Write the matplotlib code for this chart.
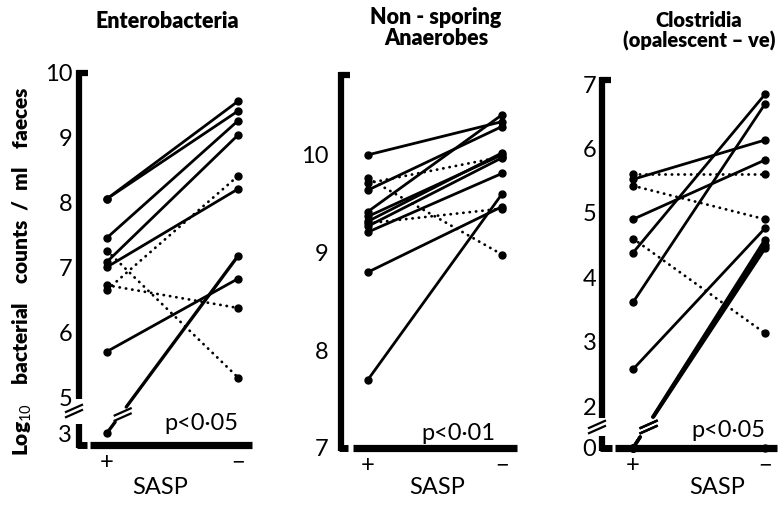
import matplotlib
matplotlib.use("Agg")
import numpy as np
import matplotlib.pyplot as plt
from matplotlib.lines import Line2D

plt.rcParams["font.family"] = ["Lato", "DejaVu Sans"]
plt.rcParams["mathtext.fontset"] = "custom"
plt.rcParams["mathtext.rm"] = "Lato"
plt.rcParams["mathtext.bf"] = "Lato:bold"

# log10 counts per patient, with (+) and without (-) SASP; dot = dotted line
entero_on = [8.05, 8.05, 7.45, 7.08, 7.00, 6.65, 6.72, 7.25, 5.70, 3.00]
entero_off = [9.55, 9.40, 9.25, 9.03, 8.20, 8.40, 6.37, 5.30, 6.82, 7.17]
entero_dot = [0, 0, 0, 0, 0, 1, 1, 1, 0, 0]
entero_ticks = [3, 5, 6, 7, 8, 9, 10]

anaer_on = [10.00, 9.76, 9.71, 9.64, 9.42, 9.37, 9.32, 9.30, 9.27, 9.21, 8.80, 7.70]
anaer_off = [10.34, 8.98, 9.98, 10.29, 10.41, 10.00, 10.02, 9.45, 9.97, 9.81, 9.47, 9.60]
anaer_dot = [0, 1, 1, 0, 0, 0, 0, 1, 0, 0, 0, 0]
anaer_ticks = [7, 8, 9, 10]

clos_on = [5.60, 5.52, 5.42, 4.90, 4.38, 3.61, 4.60, 2.57, 0, 0, 0, 0]
clos_off = [5.60, 6.13, 4.90, 5.82, 6.84, 6.69, 3.13, 4.76, 4.58, 4.50, 4.45, 0]
clos_dot = [1, 0, 1, 0, 0, 0, 1, 0, 0, 0, 0, 0]
clos_ticks = [0, 2, 3, 4, 5, 6, 7]

titles = ["Enterobacteria", "Non - sporing\nAnaerobes", "Clostridia\n(opalescent \u2013 ve)"]
pvals = ["p<0\u00b705", "p<0\u00b701", "p<0\u00b705"]
xcats = ["+", "\u2212"]

W, H = 779, 507
fig = plt.figure(figsize=(W / 100, H / 100), dpi=100)


def figline(xs, ys, lw, **kw):
    # decoration in image pixels (y measured from the top)
    fig.add_artist(Line2D([x / W for x in xs], [1 - y / H for y in ys],
                          transform=fig.transFigure, color="black", lw=lw,
                          solid_capstyle="butt", **kw))


def break_scale(brk, k):
    def fwd(v):
        v = np.asarray(v, dtype=float)
        return np.where(v >= brk, v, brk - (brk - v) * k)

    def inv(p):
        p = np.asarray(p, dtype=float)
        return np.where(p >= brk, p, brk - (brk - p) / k)
    return fwd, inv


def slash(cx, cy):
    # two short "//" strokes centred on an image-pixel point
    for d in (-2.6, 2.6):
        figline([cx - 9, cx + 9], [cy + 4 + d, cy - 4 + d], 1.6)


# pixel layout of each panel
panels = [
    dict(on=entero_on, off=entero_off, dot=entero_dot, ticks=entero_ticks,
         vx=79, top=70, base=445, x0=107, x1=238, xend=252, foot=87, xstart=90,
         brk=5, k=0.277, ytop=10.031, ybot=2.334, upper_end=399, lower_start=424,
         axbreak=(74, 411), gap=(407, 422), pad=5, sasp=160,
         title_xy=(167, 21), title_size=15.5, p_xy=(238, 430)),
    dict(on=anaer_on, off=anaer_off, dot=anaer_dot, ticks=anaer_ticks,
         vx=341, top=72, base=448, x0=368, x1=502, xend=517, foot=348, xstart=353,
         brk=None, ytop=10.848, ybot=7.0, pad=9, sasp=437,
         title_xy=(436, 28), title_size=15.5, p_xy=(495, 440)),
    dict(on=clos_on, off=clos_off, dot=clos_dot, ticks=clos_ticks,
         vx=602, top=77, base=448, x0=633, x1=765, xend=777, foot=612, xstart=615,
         brk=2, k=0.326, ytop=7.109, ybot=0.0, upper_end=418, lower_start=436,
         axbreak=(597, 427), gap=(417, 437), pad=4, sasp=717,
         title_xy=(699, 31), title_size=14.5, p_xy=(765, 437)),
]

dotted = (0, (0.1, 2.2))

for i, p in enumerate(panels):
    left, right = p["vx"], p["xend"]
    ax = fig.add_axes([left / W, 1 - p["base"] / H, (right - left) / W,
                       (p["base"] - p["top"]) / H])
    for s in ax.spines.values():
        s.set_visible(False)
    if p["brk"] is not None:
        ax.set_yscale("function", functions=break_scale(p["brk"], p["k"]))
    ax.set_ylim(p["ybot"], p["ytop"])
    unit = p["x1"] - p["x0"]
    ax.set_xlim((left - p["x0"]) / unit, (right - p["x0"]) / unit)
    ax.patch.set_visible(False)

    ax.set_yticks(p["ticks"])
    ax.set_yticklabels([str(t) for t in p["ticks"]])
    ax.tick_params(axis="y", length=0, pad=p["pad"], labelsize=17)
    ax.set_xticks([0, 1])
    ax.set_xticklabels(xcats)
    ax.tick_params(axis="x", length=0, pad=5, labelsize=17)
    ax.set_xlabel("SASP", fontsize=17)
    ax.xaxis.set_label_coords((p["sasp"] - left) / (right - left),
                              -(487 - p["base"]) / (p["base"] - p["top"]))
    ax.xaxis.label.set_va("center")

    for on, off, dot in zip(p["on"], p["off"], p["dot"]):
        ls = dotted if dot else "-"
        broken = p["brk"] is not None and on < p["brk"] <= off
        if broken:
            d0 = ax.transData.transform((0, on))
            d1 = ax.transData.transform((1, off))
            y_hi, y_lo = H - p["gap"][0], H - p["gap"][1]
            ta = (y_lo - d0[1]) / (d1[1] - d0[1])
            tb = (y_hi - d0[1]) / (d1[1] - d0[1])
            inv = ax.transData.inverted()
            for t0, t1 in ((0, ta), (tb, 1)):
                seg = inv.transform([d0 + t0 * (d1 - d0), d0 + t1 * (d1 - d0)])
                ax.plot(seg[:, 0], seg[:, 1], color="black", lw=2.4,
                        solid_capstyle="round", clip_on=False)
            tm = (ta + tb) / 2
            cx, cy = d0 + tm * (d1 - d0)
            slash(cx + 2, H - cy)
        else:
            ax.plot([0, 1], [on, off], color="black", lw=2.0, ls=ls,
                    dash_capstyle="round", solid_capstyle="round", clip_on=False)
        ax.plot([0, 1], [on, off], "o", color="black", ms=5, clip_on=False)

    # hand-drawn axis frame: vertical bar with serif, foot and a base line
    vx = p["vx"]
    figline([vx - 2, vx + 9], [p["top"] + 3, p["top"] + 3], 4.5)
    if p["brk"] is None:
        figline([vx, vx], [p["top"], p["base"] + 3], 4.5)
    else:
        figline([vx, vx], [p["top"], p["upper_end"]], 4.5)
        figline([vx, vx], [p["lower_start"], p["base"] + 3], 4.5)
        slash(*p["axbreak"])
    figline([vx - 2, p["foot"]], [p["base"], p["base"]], 5.0)
    figline([p["xstart"], p["xend"]], [p["base"], p["base"]], 5.2)

    tx, ty = p["title_xy"]
    fig.text(tx / W, 1 - ty / H, titles[i], ha="center", va="center",
             fontsize=p["title_size"], fontweight="heavy", linespacing=1.0)
    px, py = p["p_xy"]
    fig.text(px / W, 1 - py / H, pvals[i], ha="right", va="baseline", fontsize=17)

fig.text(22 / W, 1 - 271 / H,
         r"Log$_{\rm 10}$    bacterial    counts  /  ml    faeces",
         rotation=90, ha="center", va="center", fontsize=15, fontweight="heavy")

fig.savefig("out.png", dpi=100)
